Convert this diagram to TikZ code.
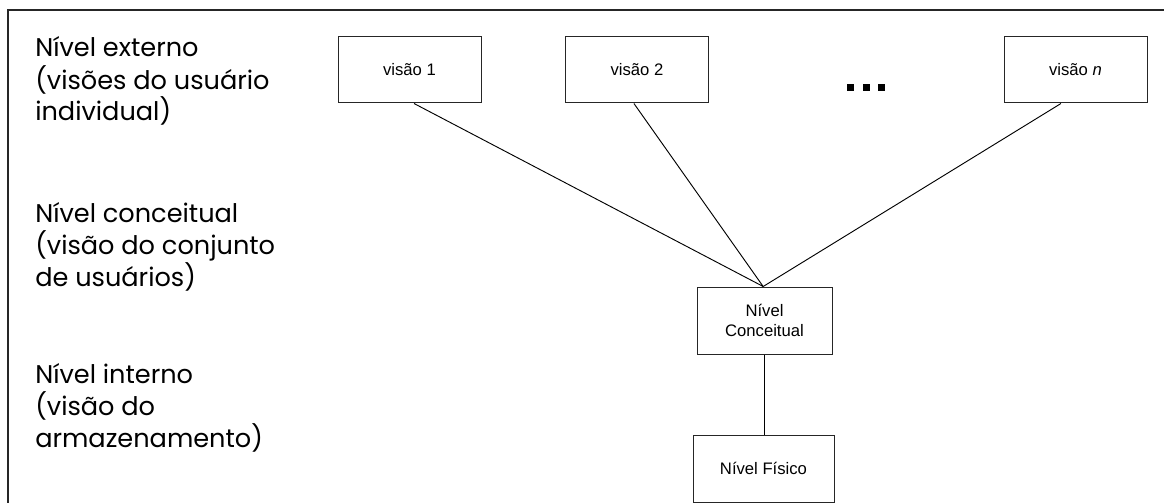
\documentclass[tikz,border=0pt]{standalone}
\usepackage{fontspec}
\setmainfont{Liberation Sans}
\newfontfamily\levelfont{Poppins}

\begin{document}
\begin{tikzpicture}[x=0.75pt, y=-0.75pt,
  box/.style={draw=black!85, line width=0.75pt, fill=white, inner sep=0pt,
    align=center, font=\fontsize{12.5pt}{15pt}\selectfont},
  viewbox/.style={box, minimum width=107.25pt, minimum height=49.5pt},
  link/.style={draw=black, line width=0.7pt},
  level/.style={anchor=base west, align=left, inner sep=0pt,
    font=\levelfont\fontsize{19.2pt}{24pt}\selectfont},
  dot/.style={fill=black}]

  % page area
  \useasboundingbox (0,0) rectangle (1164,503);
  \clip (0,0) rectangle (1164,503);

  % outer frame (continues past the right and bottom edges)
  \draw[line width=1.2pt, black!85] (8,520) -- (8,10) -- (1180,10);

  % level descriptions (placed by the baseline of their last line)
  \node[level] (ext) at (35,121) {Nível externo\\(visões do usuário\\individual)};
  \node[level] (con) at (35,286) {Nível conceitual\\(visão do conjunto\\de usuários)};
  \node[level] (int) at (35,447) {Nível interno\\(visão do\\armazenamento)};

  % external views
  \node[viewbox] (v1) at (409.5,70)  {visão 1};
  \node[viewbox] (v2) at (637,70)    {visão 2};
  \node[viewbox] (vn) at (1075.5,70) {visão \textit{n}};

  % ellipsis between the views
  \fill[dot] (846.5,84.5) rectangle +(7,7);
  \fill[dot] (862.5,84.5) rectangle +(7,7);
  \fill[dot] (878,84.5)   rectangle +(7,7);

  % conceptual and physical levels
  \node[box, minimum width=101.25pt, minimum height=50.25pt] (nc) at (764.5,320.5) {Nível\\Conceitual};
  \node[box, minimum width=105.75pt, minimum height=50.25pt] (nf) at (763.5,468.5) {Nível Físico};

  % mappings
  \draw[link] ([xshift=3.4pt]v1.south) -- ([xshift=-1pt]nc.north);
  \draw[link] ([xshift=-2.3pt]v2.south) -- ([xshift=-1pt]nc.north);
  \draw[link] ([xshift=-10.9pt]vn.south) -- ([xshift=-1pt]nc.north);
  \draw[link] ([xshift=-0.4pt]nc.south) -- ([xshift=-0.4pt]nc.south |- nf.north);
\end{tikzpicture}
\end{document}
